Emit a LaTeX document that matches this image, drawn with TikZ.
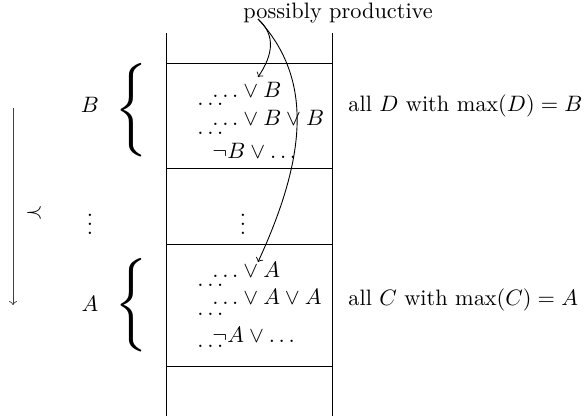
\documentclass[tikz,border=0pt]{standalone}
\usepackage{amsmath}
\begin{document}
\begin{tikzpicture}[x=0.4484pt,y=-0.4484pt,
  lbl/.style={inner sep=0pt, anchor=base west},
  ctr/.style={inner sep=0pt},
  brace/.style={inner sep=0pt, xscale=2.6, yscale=3.5},
  rule/.style={line width=0.45pt},
  prod/.style={->, line width=0.4pt}]
\useasboundingbox (0,0) rectangle (587,416);
% column
\draw[rule] (166,33) -- (166,416);
\draw[rule] (332,33) -- (332,416);
\foreach \yy in {63,168,244,366} \draw[rule] (166,\yy) -- (332,\yy);
% top label
\node[lbl] (pp) at (243,18) {possibly productive};
% B block
\node[lbl] (b1) at (212,97) {$\ldots\vee B$};
\node[lbl] (b1d) at (197,105) {$\ldots$};
\node[lbl] (b2) at (212,125) {$\ldots\vee B\vee B$};
\node[lbl] (b2d) at (197,134) {$\ldots$};
\node[lbl] (b3) at (212,158) {$\neg B\vee\ldots$};
% middle
\node[ctr] (mv) at (243,218) {$\vdots$};
% A block
\node[lbl] (a1) at (212,277) {$\ldots\vee A$};
\node[lbl] (a1d) at (197,286) {$\ldots$};
\node[lbl] (a2) at (212,304) {$\ldots\vee A\vee A$};
\node[lbl] (a2d) at (197,315) {$\ldots$};
\node[lbl] (a3) at (212,342) {$\neg A\vee\ldots$};
\node[lbl] (a3d) at (197,347) {$\ldots$};
% right texts
\node[lbl] (rb) at (348,111) {all $D$ with $\max(D) = B$};
\node[lbl] (ra) at (348,305) {all $C$ with $\max(C) = A$};
% braces and labels
\node[brace] (brB) at (131,110) {$\big\{$};
\node[brace] (brA) at (131,305) {$\big\{$};
\node[ctr] (lB) at (90,105) {$B$};
\node[ctr] (lA) at (90,304) {$A$};
\node[ctr] (lv) at (90,218) {$\vdots$};
% order arrow
\coordinate (o1) at (13,108);
\coordinate (o2) at (13,305);
\draw[->, black!75, line width=0.4pt] (o1) -- (o2);
\node[ctr] (prec) at (34,213) {$\prec$};
% productive arrows
\coordinate (ps) at (258,19);
\coordinate (pe1) at (258,77);
\coordinate (pe2) at (258,262);
\draw[prod] (ps) .. controls (276,35) and (273,55) .. (pe1);
\draw[prod] (ps) .. controls (315,80) and (305,160) .. (pe2);
\end{tikzpicture}
\end{document}
